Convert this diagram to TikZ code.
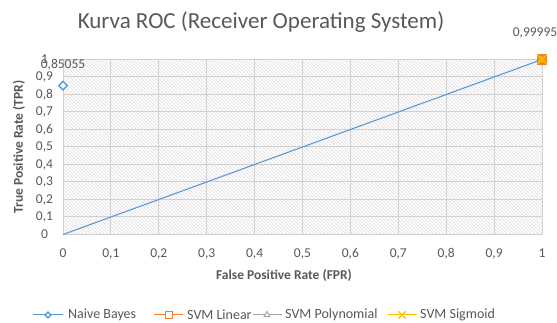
\documentclass[tikz,border=0pt]{standalone}
\usepackage{fontspec}
\setmainfont{Carlito}
\usetikzlibrary{positioning,shapes.geometric,shapes.misc}
\definecolor{txtgray}{HTML}{595959}
\definecolor{gridgray}{HTML}{D0D0D0}
\definecolor{hatchgray}{HTML}{DADADA}
\definecolor{nbblue}{HTML}{5B9BD5}
\definecolor{linorange}{HTML}{ED7D31}
\definecolor{polygray}{HTML}{A5A5A5}
\definecolor{siggold}{HTML}{FFC000}
\tikzset{
  ticklabel/.style={text=txtgray, font=\fontsize{13.5}{15}\selectfont, inner sep=0pt},
  axistitle/.style={text=txtgray, font=\bfseries\fontsize{13.5}{15}\selectfont, inner sep=0pt},
  legendtext/.style={ticklabel, font=\fontsize{14}{16}\selectfont, anchor=west},
  nbmark/.style={diamond, draw=nbblue, fill=white, line width=1.4pt, inner sep=0pt, minimum size=#1},
  linmark/.style={rectangle, draw=linorange, fill=linorange!55!siggold, line width=1.2pt, inner sep=0pt, minimum size=#1},
  polymark/.style={regular polygon, regular polygon sides=3, draw=polygray, fill=white, line width=1pt, inner sep=0pt, minimum size=#1},
  sigmark/.style={cross out, draw=siggold, line width=1.4pt, inner sep=0pt, minimum size=#1}
}
\begin{document}
\begin{tikzpicture}[x=1pt,y=1pt]
\useasboundingbox (0,0) rectangle (557,323);
\fill[white] (0,0) rectangle (557,323);
\node[text=txtgray, font=\fontsize{23}{26}\selectfont] (title) at (261,301) {Kurva ROC (Receiver Operating System)};
% hatched background
\begin{scope}
\clip (63,88.5) rectangle (542,263.5);
\foreach \a in {-112,-108.5,...,545} {
  \draw[hatchgray, line width=0.6pt] (\a,263.5) -- (\a+175,88.5);
}
\end{scope}
% plot area
\begin{scope}[shift={(63,88.5)}, x=479pt, y=175pt]
\foreach \i in {0,...,10} {
  \draw[gridgray, line width=1pt] (\i/10,0) -- (\i/10,1);
  \draw[gridgray, line width=1pt] (0,\i/10) -- (1,\i/10);
}
% tick labels
\node[ticklabel, yshift=-19pt] (x0) at (0,0) {0};
\node[ticklabel, xshift=-18.5pt] (y0) at (0,0) {0};
\foreach \i in {1,...,9} {
  \node[ticklabel, yshift=-19pt] (x\i) at (\i/10,0) {0,\i};
  \node[ticklabel, xshift=-18.5pt] (y\i) at (0,\i/10) {0,\i};
}
\node[ticklabel, yshift=-19pt] (x10) at (1,0) {1};
\node[ticklabel, xshift=-18.5pt] (y10) at (0,1) {1};
% data
\coordinate (o) at (0,0);
\coordinate (top) at (1,1);
\draw[nbblue, line width=1.1pt] (o) -- (top);
\node[nbmark=9pt] (nb) at (0,0.85055) {};
\node[ticklabel, above=10pt of nb] (nblabel) {0,85055};
\node[polymark=9pt] (poly) at (1,1) {};
\node[linmark=9pt] (lin) at (1,1) {};
\node[sigmark=8pt] (sig) at (1,1) {};
\node[ticklabel, above=16pt of lin, xshift=-7pt] (siglabel) {0,99995};
\end{scope}
% axis titles
\node[axistitle] (xtitle) at (284,47) {False Positive Rate (FPR)};
\node[axistitle, rotate=90] (ytitle) at (19,176) {True Positive Rate (TPR)};
% legend
\coordinate (l1a) at (33,8); \coordinate (l1b) at (63,8);
\draw[nbblue, line width=1pt] (l1a) -- (l1b);
\node[nbmark=6.5pt] (lnb) at (48,8) {};
\node[legendtext] (tnb) at (68,8) {Naive Bayes};
\coordinate (l2a) at (154,8); \coordinate (l2b) at (183,8);
\draw[linorange, line width=1pt] (l2a) -- (l2b);
\node[linmark=7pt, fill=white] (llin) at (169,8) {};
\node[legendtext] (tlin) at (187,8) {SVM Linear};
\coordinate (l3a) at (253,8); \coordinate (l3b) at (282,8);
\draw[polygray, line width=1pt] (l3a) -- (l3b);
\node[polymark=7pt] (lpoly) at (267,8) {};
\node[legendtext] (tpoly) at (285,8) {SVM Polynomial};
\coordinate (l4a) at (388,8); \coordinate (l4b) at (417,8);
\draw[siggold, line width=1pt] (l4a) -- (l4b);
\node[sigmark=6pt] (lsig) at (402,8) {};
\node[legendtext] (tsig) at (420,8) {SVM Sigmoid};
\end{tikzpicture}
\end{document}
